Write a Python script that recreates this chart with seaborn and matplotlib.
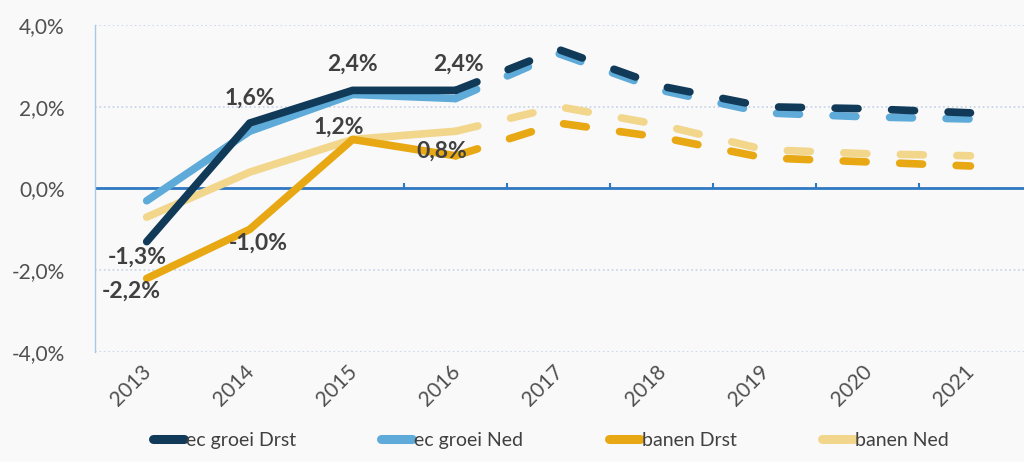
import numpy as np
import pandas as pd
import matplotlib
matplotlib.use("Agg")
import matplotlib.pyplot as plt
import matplotlib.transforms as mtransforms
from matplotlib.ticker import FuncFormatter
import seaborn as sns

# --- data ---
jaren = [2013, 2014, 2015, 2016, 2017, 2018, 2019, 2020, 2021]
ec_groei_drst = [-1.3, 1.6, 2.4, 2.4, 3.4, 2.5, 2.0, 1.95, 1.85]
ec_groei_ned = [-0.3, 1.4, 2.3, 2.2, 3.3, 2.4, 1.85, 1.75, 1.7]
banen_drst = [-2.2, -1.0, 1.2, 0.8, 1.6, 1.25, 0.75, 0.65, 0.55]
banen_ned = [-0.7, 0.4, 1.2, 1.4, 2.0, 1.55, 0.95, 0.85, 0.8]
laatste_realisatie = 2016

reeksen = ["ec groei Drst", "ec groei Ned", "banen Drst", "banen Ned"]
waarden = [ec_groei_drst, ec_groei_ned, banen_drst, banen_ned]
kleuren = ["#113a58", "#5eaad8", "#e8a814", "#f2d68c"]

# labels: (reeks, jaar, tekst, offset in points)
labels = [
    ("ec groei Drst", 2013, "-1,3%", (-7, -11)),
    ("banen Drst", 2013, "-2,2%", (-11, -9)),
    ("ec groei Drst", 2014, "1,6%", (0, 18)),
    ("banen Drst", 2014, "-1,0%", (6, -10)),
    ("ec groei Drst", 2015, "2,4%", (0, 19)),
    ("banen Drst", 2015, "1,2%", (-10, 9)),
    ("ec groei Drst", 2016, "2,4%", (2, 19)),
    ("banen Drst", 2016, "0,8%", (-10, 3)),
]

df = pd.DataFrame({"jaar": jaren})
for naam, vals in zip(reeksen, waarden):
    df[naam] = vals

sns.set_theme(style="white")
plt.rcParams["font.family"] = ["Lato", "DejaVu Sans"]

fig = plt.figure(figsize=(10.24, 4.62), dpi=100, facecolor="#f9f9fa")
ax = fig.add_axes([0.093, 0.238, 0.907, 0.708])
ax.set_facecolor("#f9f9fa")

lw = 5.5
realisatie = df[df["jaar"] <= laatste_realisatie]
prognose = df[df["jaar"] >= laatste_realisatie]

# tekenvolgorde: donkerblauw bovenop
for naam, kleur in reversed(list(zip(reeksen, kleuren))):
    sns.lineplot(data=realisatie, x="jaar", y=naam, color=kleur, lw=lw,
                 label=naam, ax=ax, solid_capstyle="round",
                 solid_joinstyle="round")
    sns.lineplot(data=prognose, x="jaar", y=naam, color=kleur, lw=lw,
                 ax=ax, dashes=(3.0, 4.4), dash_capstyle="round")

ax.set_xlim(jaren[0] - 0.5, jaren[-1] + 0.52)
ax.set_ylim(-4, 4)

# nul-lijn met tussenstreepjes
ax.axhline(0, color="#2f78c2", lw=2, zorder=1.5)
grenzen = np.array(jaren[:-1]) + 0.5
ax.vlines(grenzen, 0, 0.13, color="#2f78c2", lw=1.5, zorder=1.5)

ax.set_yticks([-4, -2, 0, 2, 4])
ax.yaxis.set_major_formatter(FuncFormatter(lambda v, p: f"{v:.1f}%".replace(".", ",")))
ax.yaxis.grid(True, linestyle=":", color="#c5d3e6", lw=1.2)
ax.tick_params(axis="y", labelsize=15, labelcolor="#505050", length=0, pad=22)

ax.set_xticks(jaren)
ax.set_xticklabels([str(j) for j in jaren], rotation=45, ha="right",
                   rotation_mode="anchor", fontsize=15, color="#505050")
ax.tick_params(axis="x", length=0, pad=7)
schuif = mtransforms.ScaledTranslation(-6 / 100, 0, fig.dpi_scale_trans)
for t in ax.get_xticklabels():
    t.set_transform(t.get_transform() + schuif)

for s in ["top", "right", "bottom"]:
    ax.spines[s].set_visible(False)
ax.spines["left"].set_color("#a9c8e8")
ax.spines["left"].set_linewidth(1)
ax.set_xlabel("")
ax.set_ylabel("")

for naam, jaar, tekst, off in labels:
    y = df.loc[df["jaar"] == jaar, naam].iloc[0]
    ax.annotate(tekst, (jaar, y), xytext=off, textcoords="offset points",
                ha="center", va="center", fontsize=16.5, fontweight="bold",
                color="#404040", zorder=5)

# legenda onderaan
handles, lbls = ax.get_legend_handles_labels()
volgorde = [lbls.index(n) for n in reeksen]
leg = ax.legend([handles[i] for i in volgorde], [lbls[i] for i in volgorde],
                ncol=4, loc="center", bbox_to_anchor=(0.538, 0.047),
                bbox_transform=fig.transFigure, frameon=False, fontsize=14,
                handlelength=1.6, handletextpad=0.1, columnspacing=4.4,
                labelcolor="#404040")
for h in leg.legend_handles:
    h.set_linewidth(6.5)

fig.savefig("out.png", dpi=100, facecolor=fig.get_facecolor())
